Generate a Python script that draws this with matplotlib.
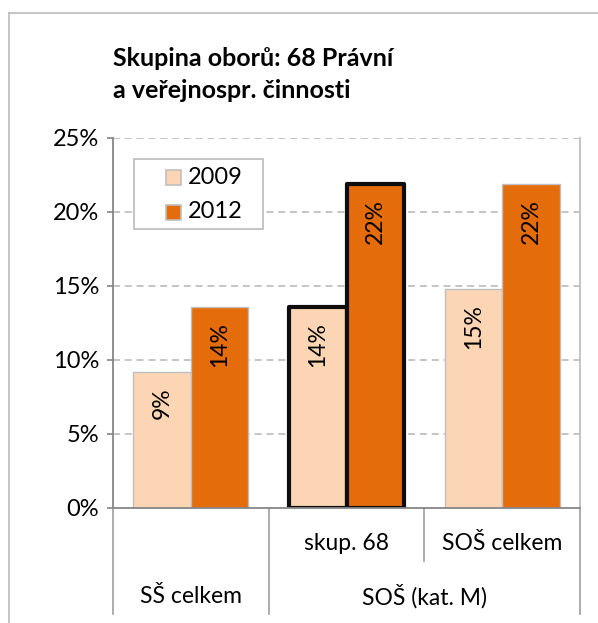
import numpy as np
import matplotlib.pyplot as plt
from matplotlib.lines import Line2D
from matplotlib.patches import Rectangle
import matplotlib.transforms as mtransforms

plt.rcParams['font.family'] = ['Lato', 'DejaVu Sans']
plt.rcParams['lines.scale_dashes'] = False

# data
groups = ['SŠ celkem', 'skup. 68', 'SOŠ celkem']
upper_labels = ['', 'skup. 68', 'SOŠ celkem']
lower_labels = ['SŠ celkem', 'SOŠ (kat. M)']
lower_centers = [0, 1.5]
series = ['2009', '2012']
v2009 = [9.2, 13.6, 14.8]
v2012 = [13.6, 21.9, 21.9]
lab2009 = ['9%', '14%', '15%']
lab2012 = ['14%', '22%', '22%']
yticks = [0, 5, 10, 15, 20, 25]

c2009 = '#FCD5B4'
c2012 = '#E46C0A'
axis_gray = '#868686'
light_gray = '#BFBFBF'

fig = plt.figure(figsize=(5.98, 6.23), dpi=100)
W, H = 598, 623
ax = fig.add_axes([113 / W, (H - 508) / H, (580 - 113) / W, 370 / H])

x = np.arange(len(groups))
bw = 0.37
edge = [light_gray, '#0D0D0D', light_gray]
lw = [1.0, 3.0, 1.0]
b1 = ax.bar(x - bw / 2, v2009, bw, color=c2009, edgecolor=edge, linewidth=lw, zorder=3)
b2 = ax.bar(x + bw / 2, v2012, bw, color=c2012, edgecolor=edge, linewidth=lw, zorder=3)
for b in list(b1) + list(b2):
    b.set_joinstyle('round')

for xi, v, t in zip(x - bw / 2, v2009, lab2009):
    ax.annotate(t, (xi, v), xytext=(0, -11), textcoords='offset points',
                rotation=90, ha='center', va='top', fontsize=16.5, zorder=5)
for xi, v, t in zip(x + bw / 2, v2012, lab2012):
    ax.annotate(t, (xi, v), xytext=(0, -11), textcoords='offset points',
                rotation=90, ha='center', va='top', fontsize=16.5, zorder=5)

ax.set_xlim(-0.5, 2.5)
ax.set_ylim(0, 25)
ax.set_yticks(yticks)
ax.set_yticklabels([f'{t}%' for t in yticks], fontsize=17)
ax.tick_params(axis='y', direction='out', length=4, width=1.2, color=axis_gray, pad=6)
ax.set_xticks([])
for t in yticks[1:]:
    ax.axhline(t, color=light_gray, lw=1.3, linestyle=(0, (5, 3.5)), zorder=1)

ax.spines['top'].set_visible(False)
ax.spines['right'].set_color(light_gray)
ax.spines['right'].set_linewidth(1.3)
ax.spines['left'].set_color(axis_gray)
ax.spines['left'].set_linewidth(1.3)
ax.spines['bottom'].set_color(axis_gray)
ax.spines['bottom'].set_linewidth(1.3)
ax.spines['bottom'].set_zorder(4)

# category axis with two levels
trans = mtransforms.blended_transform_factory(ax.transData, ax.transAxes)
for xs, y0 in [(-0.5, -0.287), (0.5, -0.287), (1.5, -0.143), (2.5, -0.287)]:
    ax.add_line(Line2D([xs, xs], [0, y0], transform=trans, color='#A6A6A6',
                       lw=1.3, clip_on=False))
for xi, t in zip(x, upper_labels):
    ax.text(xi, -0.095, t, transform=trans, ha='center', va='center', fontsize=16.5)
for xc, t in zip(lower_centers, lower_labels):
    ax.text(xc, -0.24, t, transform=trans, ha='center', va='center', fontsize=16.5)

# legend box drawn by hand (pixel layout of the original)
def px(xp, yp):
    return ((xp - 113) / 467, (508 - yp) / 370)

bx, by = px(134, 229)
ax.add_patch(Rectangle((bx, by), 129 / 467, 70 / 370, transform=ax.transAxes,
                       facecolor='white', edgecolor=light_gray, lw=1.3, zorder=6))
for name, col, yc in zip(series, [c2009, c2012], [177, 212]):
    mx, my = px(166, yc + 7.5)
    ax.add_patch(Rectangle((mx, my), 15 / 467, 15 / 370, transform=ax.transAxes,
                           facecolor=col, edgecolor=light_gray, lw=1.2, zorder=7))
    tx, ty = px(188, yc)
    ax.text(tx, ty, name, transform=ax.transAxes, ha='left', va='center',
            fontsize=17, zorder=7)

fig.text(113 / W, 1 - 58 / H, 'Skupina oborů: 68 Právní', fontsize=18,
         fontweight='bold', ha='left', va='center')
fig.text(113 / W, 1 - 91 / H, 'a veřejnospr. činnosti', fontsize=18,
         fontweight='bold', ha='left', va='center')

# outer chart frame
fig.add_artist(Line2D([9 / W, 9 / W], [0, 1 - 13 / H], color=light_gray, lw=1.3))
fig.add_artist(Line2D([9 / W, 1], [1 - 13 / H, 1 - 13 / H], color=light_gray, lw=1.3))

fig.savefig('out.png', dpi=100)
